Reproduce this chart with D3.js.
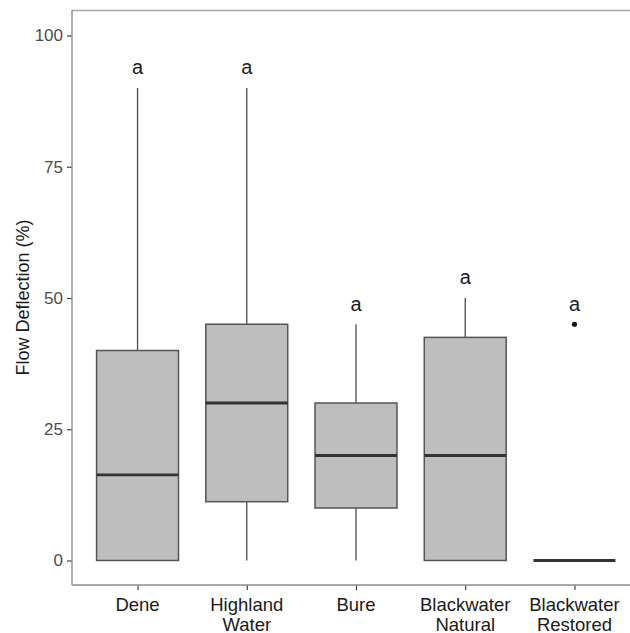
<!DOCTYPE html>
<html>
<head>
<meta charset="utf-8">
<script src="https://cdn.jsdelivr.net/npm/d3@7"></script>
<style>
  html, body { margin: 0; padding: 0; background: #fff; }
  svg { display: block; font-family: "Liberation Sans", Arial, sans-serif; }
</style>
</head>
<body>
<svg id="chart" width="630" height="633"></svg>
<script>
// Site names (two-line labels split on "\n")
const sites = ["Dene", "Highland\nWater", "Bure", "Blackwater\nNatural", "Blackwater\nRestored"];
// Five-number summaries per site (%)
const whiskerLow = [0, 0, 0, 0, 0];
const q1 = [0, 11.2, 10, 0, 0];
const median = [16.3, 30, 20, 20, 0];
const q3 = [40, 45, 30, 42.5, 0];
const whiskerHigh = [90, 90, 45, 50, 0];
// Outlying observations: [site index, value]
const outliers = [[4, 45]];
// Significance group letters
const groupLetters = ["a", "a", "a", "a", "a"];
const yTicks = [0, 25, 50, 75, 100];

const svg = d3.select("#chart");
const panel = { left: 72, top: 10, right: 640, bottom: 585 };

const x = d3.scalePoint().domain(sites).range([panel.left, panel.right]).padding(0.6);
const y = d3.scaleLinear().domain([0, 100]).range([560.5, 35.5]);
const boxW = x.step() * 0.75;

// panel outline (top edge visible)
svg.append("line")
  .attr("x1", panel.left).attr("x2", panel.right)
  .attr("y1", panel.top + 0.5).attr("y2", panel.top + 0.5)
  .attr("stroke", "#a6a6a6").attr("stroke-width", 1.3);

// axes
const yAxis = d3.axisLeft(y).tickValues(yTicks).tickSize(5).tickPadding(4);
const gy = svg.append("g").attr("transform", `translate(${panel.left},0)`).call(yAxis);
gy.select(".domain").remove();
gy.selectAll(".tick line").attr("stroke", "#333").attr("stroke-width", 1.1);
gy.selectAll(".tick text").attr("fill", "#4d4d4d").attr("font-size", 17);

const xAxis = d3.axisBottom(x).tickSize(5).tickFormat(() => "");
const gx = svg.append("g").attr("transform", `translate(0,${panel.bottom})`).call(xAxis);
gx.select(".domain").remove();
gx.selectAll(".tick line").attr("stroke", "#333").attr("stroke-width", 1.1);

// axis lines
svg.append("line")
  .attr("x1", panel.left).attr("x2", panel.left)
  .attr("y1", panel.top).attr("y2", panel.bottom)
  .attr("stroke", "#8c8c8c").attr("stroke-width", 1.4);
svg.append("line")
  .attr("x1", panel.left).attr("x2", panel.right)
  .attr("y1", panel.bottom).attr("y2", panel.bottom)
  .attr("stroke", "#8c8c8c").attr("stroke-width", 1.4);

// x tick labels
sites.forEach(s => {
  const lines = s.split("\n");
  const t = svg.append("text")
    .attr("x", x(s)).attr("y", 611)
    .attr("text-anchor", "middle")
    .attr("font-size", 18.5).attr("fill", "#1a1a1a");
  lines.forEach((l, i) => {
    t.append("tspan").attr("x", x(s)).attr("dy", i === 0 ? 0 : 19.5).text(l);
  });
});

// y axis title
svg.append("text")
  .attr("transform", `translate(29,${(panel.top + panel.bottom) / 2}) rotate(-90)`)
  .attr("text-anchor", "middle")
  .attr("font-size", 18).attr("fill", "#1a1a1a")
  .text("Flow Deflection (%)");

// boxplots
const g = svg.append("g");
sites.forEach((s, i) => {
  const cx = x(s);
  // whiskers
  g.append("line")
    .attr("x1", cx).attr("x2", cx)
    .attr("y1", y(q3[i])).attr("y2", y(whiskerHigh[i]))
    .attr("stroke", "#4a4a4a").attr("stroke-width", 1.3);
  g.append("line")
    .attr("x1", cx).attr("x2", cx)
    .attr("y1", y(q1[i])).attr("y2", y(whiskerLow[i]))
    .attr("stroke", "#4a4a4a").attr("stroke-width", 1.3);
  // box
  g.append("rect")
    .attr("x", cx - boxW / 2).attr("width", boxW)
    .attr("y", y(q3[i])).attr("height", y(q1[i]) - y(q3[i]))
    .attr("fill", "#bebebe").attr("stroke", "#555").attr("stroke-width", 1.5);
  // median
  g.append("line")
    .attr("x1", cx - boxW / 2).attr("x2", cx + boxW / 2)
    .attr("y1", y(median[i])).attr("y2", y(median[i]))
    .attr("stroke", "#333").attr("stroke-width", 2.8);
  // group letter above the highest point
  const top = Math.max(whiskerHigh[i], ...outliers.filter(o => o[0] === i).map(o => o[1]));
  svg.append("text")
    .attr("x", cx).attr("y", y(top + 2.6))
    .attr("text-anchor", "middle")
    .attr("font-size", 20).attr("fill", "#1a1a1a")
    .text(groupLetters[i]);
});

outliers.forEach(([i, v]) => {
  g.append("circle")
    .attr("cx", x(sites[i])).attr("cy", y(v)).attr("r", 2.6)
    .attr("fill", "#111");
});
</script>
</body>
</html>
